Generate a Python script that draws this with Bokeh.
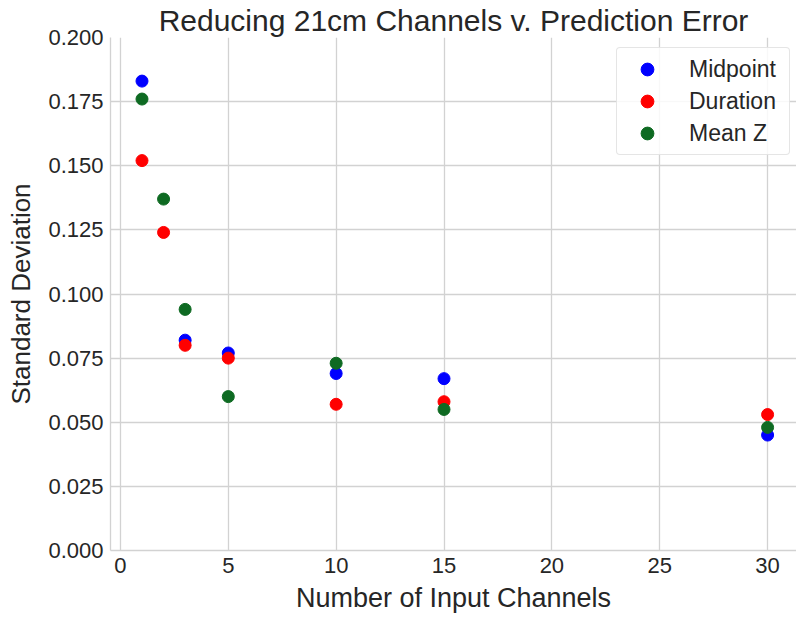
from bokeh.plotting import figure
from bokeh.models import FixedTicker, PrintfTickFormatter
from bokeh.embed import file_html
from bokeh.resources import INLINE

NAN = float("nan")

# Number of input channels kept
channels = [1, 2, 3, 5, 10, 15, 30]

# Standard deviation of the prediction error for each target
midpoint = [0.183, NAN, 0.082, 0.077, 0.069, 0.067, 0.045]
duration = [0.152, 0.124, 0.080, 0.075, 0.057, 0.058, 0.053]
mean_z = [0.176, 0.137, 0.094, 0.060, 0.073, 0.055, 0.048]

x_ticks = [0, 5, 10, 15, 20, 25, 30]
y_ticks = [0.0, 0.025, 0.05, 0.075, 0.1, 0.125, 0.15, 0.175, 0.2]

FONT = "Liberation Sans"
TEXT = "#262626"
GRID = "#d2d2d2"

p = figure(
    width=796, height=617,
    x_range=(-0.46, 31.34), y_range=(0, 0.2),
    output_backend="svg", toolbar_location=None,
    min_border_left=110, min_border_right=0,
    min_border_top=37, min_border_bottom=67,
    title="Reducing 21cm Channels v. Prediction Error",
)
p.background_fill_color = "white"
p.border_fill_color = "white"
p.outline_line_color = None

p.title.text_font = FONT
p.title.text_font_size = "30px"
p.title.text_font_style = "normal"
p.title.text_color = TEXT
p.title.align = "center"
p.title.standoff = 2

series = [
    ("Midpoint", midpoint, "#0000ff"),
    ("Duration", duration, "#ff0000"),
    ("Mean Z", mean_z, "#0e6a22"),
]
for name, vals, color in series:
    p.scatter(channels, vals, size=12, color=color, legend_label=name)

p.xaxis.ticker = FixedTicker(ticks=x_ticks)
p.yaxis.ticker = FixedTicker(ticks=y_ticks)
p.yaxis.formatter = PrintfTickFormatter(format="%.3f")
p.xgrid.ticker = FixedTicker(ticks=x_ticks)
p.ygrid.ticker = FixedTicker(ticks=y_ticks)
p.grid.grid_line_color = GRID
p.grid.grid_line_width = 1.3

for ax in (p.xaxis, p.yaxis):
    ax.axis_line_color = GRID
    ax.axis_line_width = 1.3
    ax.major_tick_line_color = None
    ax.minor_tick_line_color = None
    ax.major_label_text_font = FONT
    ax.major_label_text_font_size = "22px"
    ax.major_label_text_color = TEXT
    ax.axis_label_text_font = FONT
    ax.axis_label_text_font_style = "normal"
    ax.axis_label_text_color = TEXT

p.xaxis.axis_label = "Number of Input Channels"
p.yaxis.axis_label = "Standard Deviation"
p.xaxis.axis_label_text_font_size = "27px"
p.yaxis.axis_label_text_font_size = "26px"
p.xaxis.major_label_standoff = 1
p.yaxis.major_label_standoff = 1
p.xaxis.axis_label_standoff = 7
p.yaxis.axis_label_standoff = 9

lg = p.legend[0]
lg.location = (506, 395)
lg.padding = 5
lg.spacing = 0
lg.glyph_width = 50
lg.glyph_height = 32
lg.label_height = 32
lg.label_width = 95
lg.label_standoff = 17
lg.label_text_font = FONT
lg.label_text_font_size = "23px"
lg.label_text_color = TEXT
lg.border_line_color = "#cccccc"
lg.border_line_width = 1
lg.border_radius = 4
lg.background_fill_alpha = 0.85

open("out.html", "w").write(file_html(p, INLINE))
